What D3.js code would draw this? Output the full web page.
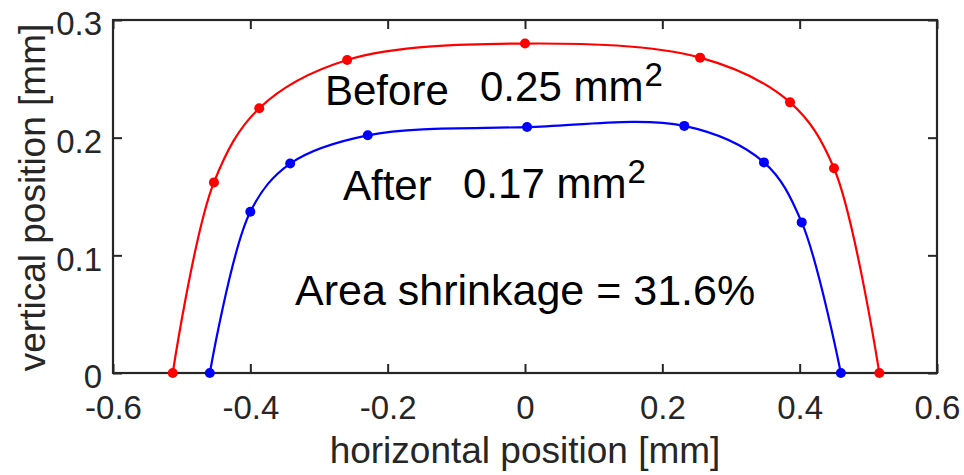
<!DOCTYPE html>
<html>
<head>
<meta charset="utf-8">
<script src="https://cdn.jsdelivr.net/npm/d3@7"></script>
<style>
  html, body { margin: 0; padding: 0; background: #fff; }
  svg { display: block; }
</style>
</head>
<body>
<svg id="chart" width="964" height="475"></svg>
<script>
// Cross-section profile before treatment (mm)
const beforeX = [-0.513, -0.453, -0.387, -0.259, 0.0, 0.255, 0.386, 0.450, 0.516];
const beforeY = [0.0, 0.162, 0.225, 0.266, 0.280, 0.268, 0.230, 0.174, 0.0];
// Cross-section profile after treatment (mm)
const afterX = [-0.459, -0.400, -0.342, -0.229, 0.003, 0.232, 0.348, 0.403, 0.460];
const afterY = [0.0, 0.137, 0.178, 0.202, 0.209, 0.210, 0.179, 0.128, 0.0];

const xTicks = [-0.6, -0.4, -0.2, 0, 0.2, 0.4, 0.6];
const yTicks = [0, 0.1, 0.2, 0.3];

const svg = d3.select("#chart");
const plotLeft = 113, plotRight = 937, plotTop = 20, plotBottom = 373;
const x = d3.scaleLinear().domain([-0.6, 0.6]).range([plotLeft, plotRight]);
const y = d3.scaleLinear().domain([0, 0.3]).range([plotBottom, plotTop]);

const axisColor = "#262626";
const font = "'Liberation Sans', Arial, Helvetica, sans-serif";
const tickLen = 9;
// plain hyphen-minus for negative tick values
const fmt = d => d === 0 ? "0" : d3.format(".1f")(d).replace("\u2212", "-");

// Axes: bottom/left carry labels, top/right mirror the ticks
const gBottom = svg.append("g").attr("transform", `translate(0,${plotBottom})`)
  .call(d3.axisBottom(x).tickValues(xTicks).tickSizeInner(-tickLen).tickSizeOuter(0).tickPadding(23).tickFormat(fmt));
const gTop = svg.append("g").attr("transform", `translate(0,${plotTop})`)
  .call(d3.axisTop(x).tickValues(xTicks).tickSizeInner(-tickLen).tickSizeOuter(0).tickFormat(""));
const gLeft = svg.append("g").attr("transform", `translate(${plotLeft},0)`)
  .call(d3.axisLeft(y).tickValues(yTicks).tickSizeInner(-tickLen).tickSizeOuter(0).tickPadding(11).tickFormat(fmt));
const gRight = svg.append("g").attr("transform", `translate(${plotRight},0)`)
  .call(d3.axisRight(y).tickValues(yTicks).tickSizeInner(-tickLen).tickSizeOuter(0).tickFormat(""));

[gBottom, gTop, gLeft, gRight].forEach(g => {
  g.select(".domain").remove();
  g.selectAll(".tick line").attr("stroke", axisColor).attr("stroke-width", 2);
  g.selectAll(".tick text").attr("fill", axisColor).style("font-family", font).style("font-size", "33px");
});
gLeft.selectAll(".tick text").attr("dy", "0.45em");

// Plot box
svg.append("rect")
  .attr("x", plotLeft).attr("y", plotTop)
  .attr("width", plotRight - plotLeft).attr("height", plotBottom - plotTop)
  .attr("fill", "none").attr("stroke", axisColor).attr("stroke-width", 2.2);

// Axis titles
svg.append("text")
  .attr("x", (plotLeft + plotRight) / 2).attr("y", 463)
  .attr("text-anchor", "middle").attr("fill", axisColor)
  .style("font-family", font).style("font-size", "37px")
  .text("horizontal position [mm]");
svg.append("text")
  .attr("transform", `translate(45,${(plotTop + plotBottom) / 2 + 1}) rotate(-90)`)
  .attr("text-anchor", "middle").attr("fill", axisColor)
  .style("font-family", font).style("font-size", "37px")
  .text("vertical position [mm]");

// Profiles
const line = d3.line().x(d => x(d[0])).y(d => y(d[1])).curve(d3.curveCatmullRom.alpha(0.5));
const series = [
  { xs: beforeX, ys: beforeY, color: "#ff0000" },
  { xs: afterX, ys: afterY, color: "#0000ff" }
];
series.forEach(s => {
  const pts = s.xs.map((v, i) => [v, s.ys[i]]);
  svg.append("path").datum(pts)
    .attr("d", line).attr("fill", "none")
    .attr("stroke", s.color).attr("stroke-width", 2.2);
  svg.append("g").selectAll("circle").data(pts).join("circle")
    .attr("cx", d => x(d[0])).attr("cy", d => y(d[1]))
    .attr("r", 5).attr("fill", s.color);
});

// Annotations
function areaLabel(name, nx, ny, value, vx, vy) {
  svg.append("text").attr("x", nx).attr("y", ny)
    .style("font-family", font).style("font-size", "42px").attr("fill", "#000")
    .text(name);
  const t = svg.append("text").attr("x", vx).attr("y", vy)
    .style("font-family", font).style("font-size", "42px").attr("fill", "#000");
  t.append("tspan").text(value + " mm");
  t.append("tspan").attr("dx", 1).attr("dy", -15).style("font-size", "33px").text("2");
}
areaLabel("Before", 325, 105, "0.25", 480, 101);
areaLabel("After", 343, 200, "0.17", 463, 198);

svg.append("text").attr("x", 295).attr("y", 305)
  .style("font-family", font).style("font-size", "43px").attr("fill", "#000")
  .text("Area shrinkage = 31.6%");
</script>
</body>
</html>
